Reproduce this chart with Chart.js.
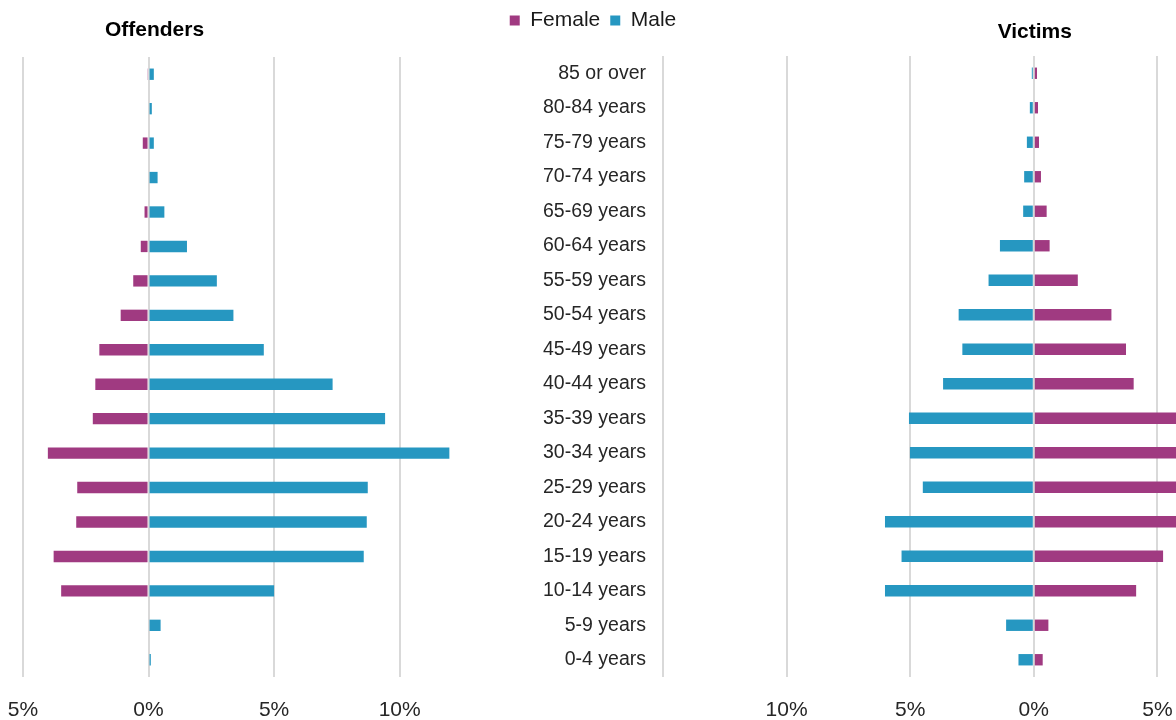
<!DOCTYPE html>
<html>
<head>
<meta charset="utf-8">
<title>Offenders and victims by age and sex</title>
<script src="https://cdn.jsdelivr.net/npm/chart.js@4.4.1/dist/chart.umd.min.js"></script>
<style>
  html, body { margin: 0; background: #fff; overflow: hidden; }
  body { width: 1176px; height: 720px; position: relative; }
  canvas { position: absolute; top: 0; }
  #offenders { left: 0; }
  #victims { left: 500px; }
</style>
</head>
<body>
<canvas id="offenders" width="1163" height="720"></canvas>
<canvas id="victims" width="800" height="720"></canvas>
<script>
// Age bands, youngest first (drawn bottom to top)
const ageGroups = [
  "0-4 years", "5-9 years", "10-14 years", "15-19 years", "20-24 years",
  "25-29 years", "30-34 years", "35-39 years", "40-44 years", "45-49 years",
  "50-54 years", "55-59 years", "60-64 years", "65-69 years", "70-74 years",
  "75-79 years", "80-84 years", "85 or over"
]

// Share of all offenders / victims, in percent
const offenderFemale = [0.0, 0.04, 3.48, 3.78, 2.88, 2.84, 4.01, 2.22, 2.12, 1.96, 1.11, 0.61, 0.31, 0.16, 0.0, 0.23, 0.0, 0.03]
const offenderMale = [0.09, 0.48, 5.0, 8.57, 8.69, 8.73, 11.98, 9.42, 7.33, 4.59, 3.38, 2.72, 1.53, 0.63, 0.36, 0.21, 0.13, 0.21]
const victimFemale = [0.36, 0.59, 4.14, 5.23, 6.8, 7.1, 7.0, 6.3, 4.04, 3.73, 3.14, 1.78, 0.64, 0.52, 0.29, 0.21, 0.17, 0.13]
const victimMale = [0.62, 1.12, 6.02, 5.35, 6.02, 4.49, 5.01, 5.05, 3.67, 2.89, 3.04, 1.83, 1.37, 0.43, 0.39, 0.28, 0.16, 0.08]

const FEMALE = "#a03a81"
const MALE = "#2697c1"
const GRID = "#d9d9d9"
const TEXT = "#262626"

Chart.defaults.font.family = "'Liberation Sans', Arial, sans-serif"
Chart.defaults.color = TEXT

// Bold panel heading centred over the zero line
const panelTitle = {
  id: "panelTitle",
  afterDraw(chart, args, opts) {
    const ctx = chart.ctx
    const x = chart.scales.x.getPixelForValue(0) + (opts.shift || 0)
    ctx.save()
    ctx.font = "bold 21px 'Liberation Sans', Arial, sans-serif"
    ctx.fillStyle = "#000"
    ctx.textAlign = "center"
    ctx.textBaseline = "middle"
    ctx.fillText(opts.text, x, opts.y)
    ctx.restore()
  }
}

// Leaves some room between the legend and the plot
const legendGap = {
  id: "legendGap",
  beforeInit(chart, args, opts) {
    const legend = chart.legend
    if (!legend) return
    const fit = legend.fit
    legend.fit = function () {
      fit.call(this)
      this.height += opts.extra
    }
  }
}

function barSet(label, values, colour, flip) {
  return {
    label: label,
    data: values.map((v) => (flip ? -v : v)),
    backgroundColor: colour,
    borderWidth: 0,
    categoryPercentage: 1,
    barPercentage: 0.33
  }
}

function percentLabel(v) {
  return Math.abs(v) + "%"
}

// Fixed-height percent axis along the bottom, no overhang for end labels
function fitPercentAxis(axis) {
  axis.height = 43
  axis.paddingLeft = 0
  axis.paddingRight = 0
}

// Offenders: female to the left, male to the right
new Chart(document.getElementById("offenders"), {
  type: "bar",
  data: {
    labels: ageGroups,
    datasets: [
      barSet("Female", offenderFemale, FEMALE, true),
      barSet("Male", offenderMale, MALE, false)
    ]
  },
  options: {
    indexAxis: "y",
    responsive: false,
    animation: false,
    layout: { padding: { left: 23, right: 0, top: 0, bottom: 0 } },
    scales: {
      x: {
        stacked: true,
        min: -5,
        max: 40.4,
        afterBuildTicks: (axis) => {
          axis.ticks = axis.ticks.filter((t) => t.value <= 10)
        },
        afterFit: fitPercentAxis,
        ticks: { stepSize: 5, padding: 21, font: { size: 21 }, callback: percentLabel, maxRotation: 0 },
        grid: { color: GRID, lineWidth: 2, drawTicks: false },
        border: { display: false }
      },
      y: {
        stacked: true,
        reverse: true,
        display: false
      }
    },
    plugins: {
      legend: {
        position: "top",
        labels: { boxWidth: 10, boxHeight: 10, padding: 10, font: { size: 21 }, color: "#1a1a1a" }
      },
      legendGap: { extra: 16 },
      panelTitle: { text: "Offenders", y: 30, shift: 6 },
      tooltip: { enabled: false }
    }
  },
  plugins: [legendGap, panelTitle]
})

// Victims: male to the left, female to the right
new Chart(document.getElementById("victims"), {
  type: "bar",
  data: {
    labels: ageGroups,
    datasets: [
      barSet("Female", victimFemale, FEMALE, false),
      barSet("Male", victimMale, MALE, true)
    ]
  },
  options: {
    indexAxis: "y",
    responsive: false,
    animation: false,
    layout: { padding: { left: 0, right: 19, top: 56, bottom: 0 } },
    scales: {
      x: {
        stacked: true,
        min: -15,
        max: 10,
        afterFit: fitPercentAxis,
        ticks: {
          stepSize: 5,
          padding: 21,
          font: { size: 21 },
          maxRotation: 0,
          callback: (v) => (v === -15 ? "" : percentLabel(v))
        },
        grid: { color: GRID, lineWidth: 2, drawTicks: false },
        border: { display: false }
      },
      y: {
        stacked: true,
        reverse: true,
        afterFit: (axis) => {
          axis.width = 163
        },
        ticks: { padding: 17, font: { size: 19.5 }, autoSkip: false },
        grid: { display: false, drawTicks: false },
        border: { display: false }
      }
    },
    plugins: {
      legend: { display: false },
      panelTitle: { text: "Victims", y: 32, shift: 1 },
      tooltip: { enabled: false }
    }
  },
  plugins: [panelTitle]
})
</script>
</body>
</html>
